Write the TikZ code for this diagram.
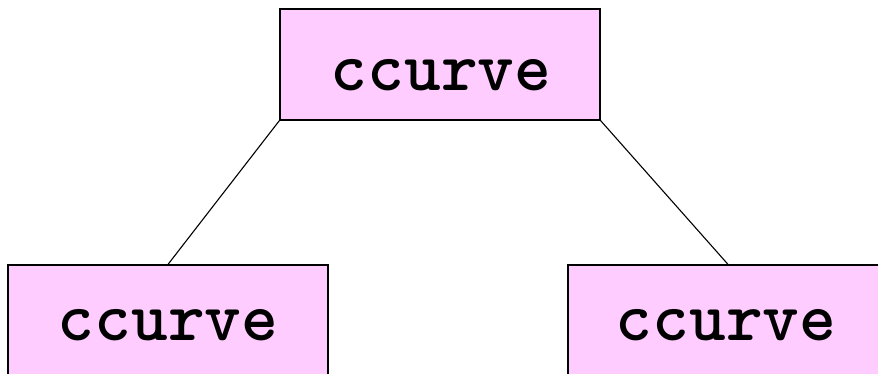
\documentclass[tikz,border=0pt]{standalone}
\usepackage{fontspec}
\definecolor{boxpink}{HTML}{FFCCFF}
\begin{document}
\begin{tikzpicture}[x=1pt,y=-1pt,
  boxnode/.style={draw=black,fill=boxpink,line width=1.2pt,rectangle,inner sep=0pt,minimum width=320pt,minimum height=111pt},
  boxlabel/.style={inner sep=0pt,font=\ttfamily\bfseries\fontsize{70}{70}\selectfont},
  edge/.style={draw=black,line width=1.1pt}]
\useasboundingbox (0,0) rectangle (878,374);
\clip (0,0) rectangle (878,374);
\node[boxnode] (top) at (440,64.5) {};
\node[boxnode] (left) at (168,320.5) {};
\node[boxnode] (right) at (728,320.5) {};
\node[boxlabel] (toplabel) at (441,75) {ccurve};
\node[boxlabel] (leftlabel) at (168,325) {ccurve};
\node[boxlabel] (rightlabel) at (726,325) {ccurve};
\draw[edge] (top.south west) -- (left.north);
\draw[edge] (top.south east) -- (right.north);
\end{tikzpicture}
\end{document}
